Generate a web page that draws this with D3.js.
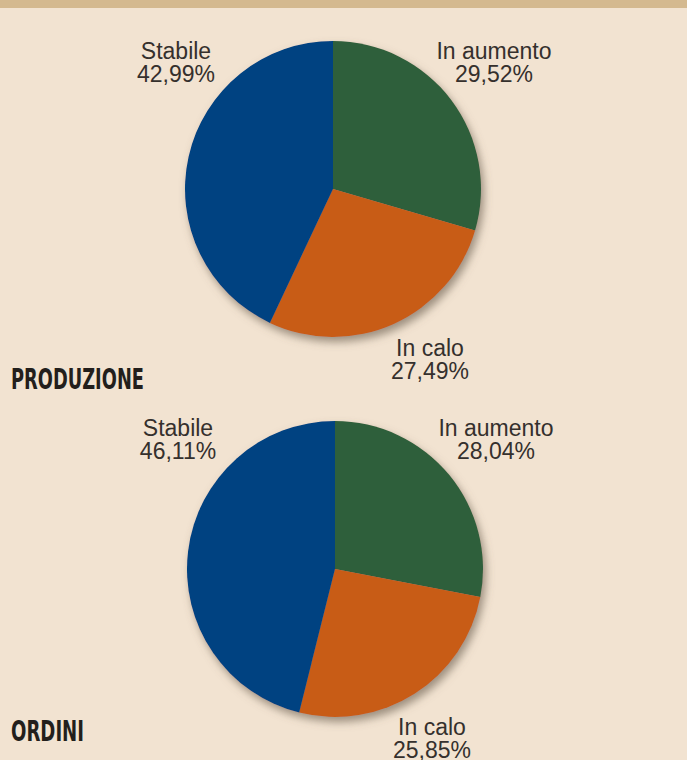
<!DOCTYPE html>
<html>
<head>
    <meta charset="utf-8">
    <script src="https://d3js.org/d3.v7.min.js"></script>
</head>
<body style="margin:0px; background:#f2e3d1;">
    <svg id="chart" width="687" height="760"></svg>
    <script>
        // data
        var categories = ["In aumento", "In calo", "Stabile"];
        var produzione = [29.52, 27.49, 42.99];
        var ordini = [28.04, 25.85, 46.11];
        var titles = ["PRODUZIONE", "ORDINI"];
        var colors = ["#2f5e3a", "#c85b19", "#004281"];

        var svg = d3.select("#chart");
        svg.append("rect").attr("width", 687).attr("height", 760).attr("fill", "#f2e3d1");
        svg.append("rect").attr("width", 687).attr("height", 8).attr("fill", "#d4b98f");

        // soft shadow under the pies
        var f = svg.append("defs").append("filter").attr("id", "shadow")
            .attr("x", "-20%").attr("y", "-20%").attr("width", "140%").attr("height", "140%");
        f.append("feDropShadow").attr("dx", 3).attr("dy", 5).attr("stdDeviation", 4)
            .attr("flood-color", "#6e6052").attr("flood-opacity", 0.65);

        var color = d3.scaleOrdinal().domain(categories).range(colors);
        var pie = d3.pie().sort(null).value(d => d.v);
        var arc = d3.arc().innerRadius(0).outerRadius(148);

        var fmt = v => v.toFixed(2).replace(".", ",") + "%";

        // positions of each block and its labels
        var blocks = [
            {data: produzione, title: titles[0], cx: 333, cy: 189, ty: 389, tw: 133,
             lab: [[494, 59], [430, 356], [176, 59]]},
            {data: ordini, title: titles[1], cx: 335, cy: 569, ty: 741, tw: 73,
             lab: [[496, 436], [432, 735], [178, 436]]}
        ];

        blocks.forEach(function(b) {
            var rows = categories.map((c, i) => ({c: c, v: b.data[i]}));
            var g = svg.append("g").attr("transform", "translate(" + b.cx + "," + b.cy + ")");
            var slices = g.append("g").attr("filter", "url(#shadow)");
            slices.selectAll("path")
                .data(pie(rows))
                .enter()
                .append("path")
                .attr("d", arc)
                .attr("fill", d => color(d.data.c));

            rows.forEach(function(d, i) {
                var t = svg.append("text")
                    .attr("x", b.lab[i][0]).attr("y", b.lab[i][1])
                    .attr("text-anchor", "middle")
                    .style("font-family", "'Liberation Sans', Arial, sans-serif")
                    .style("font-size", "23px")
                    .style("fill", "#35302d");
                t.append("tspan").attr("x", b.lab[i][0]).text(d.c);
                t.append("tspan").attr("x", b.lab[i][0]).attr("dy", 22.5).text(fmt(d.v));
            });

            svg.append("text")
                .attr("x", 11).attr("y", b.ty)
                .attr("textLength", b.tw).attr("lengthAdjust", "spacingAndGlyphs")
                .style("font-family", "'Liberation Sans Narrow', 'DejaVu Sans Condensed', sans-serif")
                .style("font-weight", "bold")
                .style("font-size", "29px")
                .style("fill", "#231f1c")
                .text(b.title);
        });
    </script>
</body>
</html>
